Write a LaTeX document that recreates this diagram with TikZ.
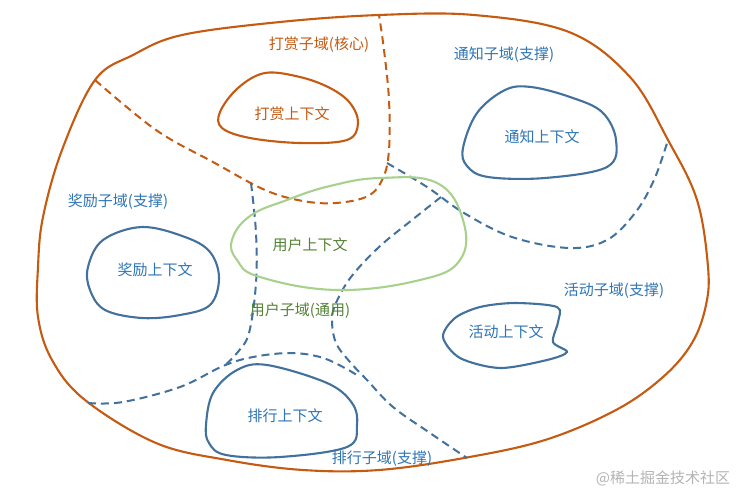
\documentclass[tikz,border=0pt]{standalone}
\usepackage{fontspec}
\newfontfamily\cjk{Noto Sans CJK SC}
\definecolor{orng}{HTML}{C55A11}
\definecolor{bline}{HTML}{41719C}
\definecolor{btext}{HTML}{2E75B6}
\definecolor{gline}{HTML}{A9D18E}
\definecolor{gtext}{HTML}{548235}
\definecolor{wm}{HTML}{B4B4B4}
\tikzset{
  outer/.style={draw=orng, line width=2.1pt, line join=round},
  odash/.style={draw=orng, line width=2pt, dash pattern=on 8pt off 5pt},
  bdash/.style={draw=bline, line width=2pt, dash pattern=on 8pt off 5pt},
  octx/.style={draw=orng, line width=2.1pt},
  bctx/.style={draw=bline, line width=2.1pt},
  gctx/.style={draw=gline, line width=2.1pt},
  lbl/.style={font=\cjk\fontsize{15}{17}\selectfont, inner sep=0pt},
}
\begin{document}
\begin{tikzpicture}[x=1pt,y=-1pt]
\useasboundingbox (0,0) rectangle (741,493);
\fill[white] (0,0) rectangle (741,493);
% outer boundary
\draw[outer] plot[smooth cycle, tension=0.6] coordinates {(182,35) (280,22) (379,15) (474,15) (569,32) (630,77) (668,140) (697,200) (708,267) (706,305) (692,343) (663,377) (616,410) (545,440) (464,458) (379,470) (303,470) (227,460) (156,443) (85,400) (52,360) (38,317) (38,267) (43,217) (62,150) (95,80) (133,55)};
% orange dashed border of core domain
\draw[odash] plot[smooth, tension=0.6] coordinates {(95,80) (156,130) (213,162) (265,190) (303,201) (336,203) (368,196) (383,178) (389,150) (389,100) (384,50) (379,15)};
% blue dashed borders
\draw[bdash] plot[smooth, tension=0.6] coordinates {(387,163) (427,187) (464,213) (512,237) (569,248) (607,240) (635,213) (654,180) (668,140)};
\draw[bdash] plot[smooth, tension=0.6] coordinates {(251,183) (256,233) (256,283) (249,333) (237,353) (223,367)};
\draw[bdash] plot[smooth, tension=0.6] coordinates {(441,197) (412,220) (379,247) (351,277) (336,303) (332,320) (336,343) (350,362) (367,380) (393,407) (430,433) (467,458)};
\draw[bdash] plot[smooth, tension=0.6] coordinates {(88,403) (123,402) (180,387) (223,366) (253,357) (290,353) (320,357) (343,367) (360,377)};
% contexts
\draw[gctx] plot[smooth cycle, tension=0.7] coordinates {(232,240) (250,216) (287,200) (330,186) (380,178) (437,183) (463,220) (460,260) (420,280) (337,290) (260,277) (237,260)};
\draw[octx] plot[smooth cycle, tension=0.6] coordinates {(220,112) (238,88) (265,73) (300,77) (330,88) (350,103) (358,123) (347,140) (300,143) (250,138) (222,128)};
\draw[bctx] plot[smooth cycle, tension=0.6] coordinates {(463,148) (477,113) (505,90) (531,87) (570,97) (602,112) (616,140) (607,167) (545,178) (488,177) (467,166)};
\draw[bctx] plot[smooth cycle, tension=0.6] coordinates {(88,267) (103,240) (142,227) (185,237) (210,252) (219,278) (210,305) (180,315) (142,318) (105,310) (90,290)};
\draw[bctx] plot[smooth cycle, tension=0.5] coordinates {(443,337) (455,318) (480,307) (515,303) (557,307) (558,322) (553,342) (567,352) (547,360) (500,368) (460,358)};
\draw[bctx] plot[smooth cycle, tension=0.6] coordinates {(206,425) (213,393) (237,370) (267,365) (327,383) (352,403) (357,425) (347,447) (280,457) (226,455) (209,443)};
% labels
\node[lbl, text=orng] (dsd) at (319,45) {打赏子域(核心)};
\node[lbl, text=orng] (dsc) at (292,114) {打赏上下文};
\node[lbl, text=btext] (tzd) at (504,55) {通知子域(支撑)};
\node[lbl, text=btext] (tzc) at (542,137) {通知上下文};
\node[lbl, text=btext] (jld) at (118,202) {奖励子域(支撑)};
\node[lbl, text=btext] (jlc) at (155,270) {奖励上下文};
\node[lbl, text=gtext] (yhc) at (310,245) {用户上下文};
\node[lbl, text=gtext] (yhd) at (300,311) {用户子域(通用)};
\node[lbl, text=btext] (hdd) at (614,291) {活动子域(支撑)};
\node[lbl, text=btext] (hdc) at (506,332) {活动上下文};
\node[lbl, text=btext] (phc) at (285,416) {排行上下文};
\node[lbl, text=btext] (phd) at (382,459) {排行子域(支撑)};
\node[lbl, text=wm] (wmk) at (663,478) {@稀土掘金技术社区};
\end{tikzpicture}
\end{document}
